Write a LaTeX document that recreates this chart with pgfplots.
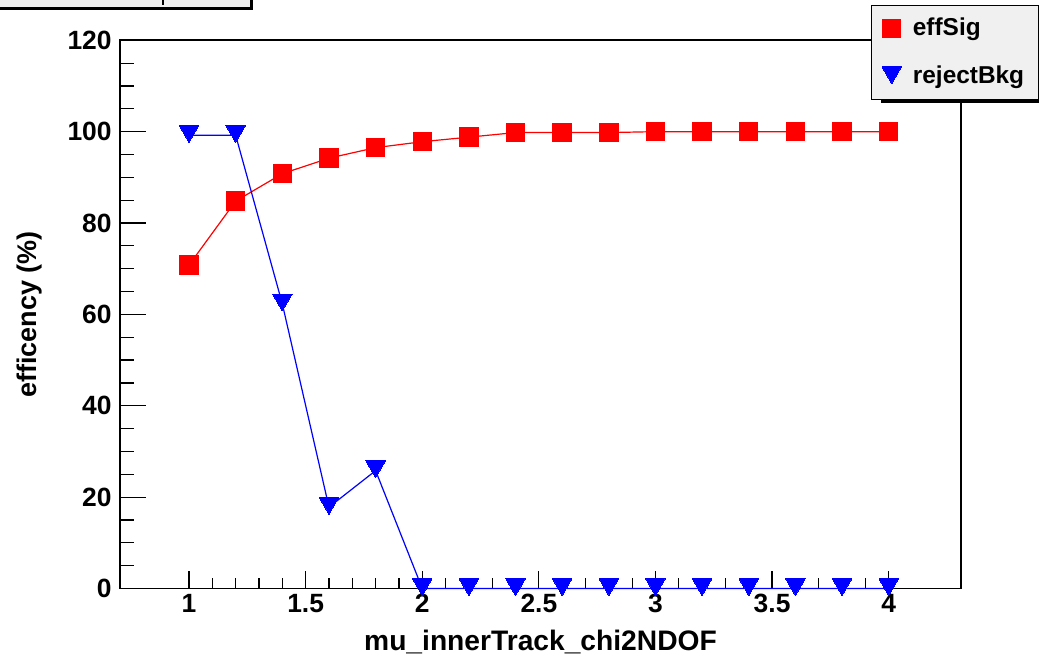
\documentclass[border=0pt]{standalone}
\usepackage{fontspec}
\setmainfont{Liberation Sans}
\usepackage{pgfplots}
\pgfplotsset{compat=1.18}
\usetikzlibrary{shadows}
\definecolor{rootgray}{HTML}{F0F0F0}
\definecolor{rootred}{HTML}{FF0000}
\definecolor{rootblue}{HTML}{0000FF}
\pgfplotsset{
  rootframe/.style={
    at={(0pt,0pt)}, anchor=south west,
    scale only axis, width=420.5pt, height=274.1pt,
    xmin=0.704, xmax=4.31, ymin=0, ymax=120,
    tick pos=left, tick align=inside,
    axis line style={line width=0.8pt, black},
    tick style={line width=0.6pt, black},
    /pgf/number format/assume math mode=true,
    tick label style={font=\fontsize{13.2pt}{15pt}\selectfont\bfseries, inner sep=0pt},
  }
}
\begin{document}
\begin{tikzpicture}
\useasboundingbox (-60pt,-34.75pt) rectangle (459.5pt,294.25pt);
% x ticks, x tick labels and x label
\begin{axis}[
  rootframe,
  xtick={1,1.5,2,2.5,3,3.5,4}, ytick=\empty,
  minor x tick num=4,
  major tick length=8.5pt, minor tick length=5pt,
  xticklabel style={anchor=base, yshift=-12.25pt},
  xlabel={mu\_innerTrack\_chi2NDOF},
  xlabel style={at={(axis description cs:0.5,-0.1122)}, anchor=base, inner sep=0pt, font=\fontsize{14.1pt}{16pt}\selectfont\bfseries},
]
\end{axis}
% y ticks, data and legend
\begin{axis}[
  rootframe,
  xtick=\empty, ytick={0,20,40,60,80,100,120},
  minor y tick num=3,
  major tick length=13pt, minor tick length=7pt,
  clip=false,
  yticklabel style={anchor=east, xshift=-4pt},
  ylabel={efficency (\%)},
  ylabel style={at={(axis description cs:-0.0987,0.5)}, anchor=base, inner sep=0pt, font=\fontsize{13.5pt}{16pt}\selectfont\bfseries},
  legend image code/.code={\draw[#1] plot coordinates {(0pt,0pt)};},
  legend cell align=left,
  legend style={at={(axis description cs:0.893,1.0644)}, anchor=north west,
    draw=black, line width=0.5pt, fill=rootgray,
    font=\fontsize{12.2pt}{14pt}\selectfont\bfseries,
    inner xsep=5.25pt, inner ysep=6.25pt, row sep=13.5pt,
    nodes={inner sep=0pt},
    /tikz/every odd column/.append style={column sep=5.75pt},
    drop shadow={shadow xshift=4.5pt, shadow yshift=-2pt, fill=black, opacity=1}},
]
\addplot[color=rootred, line width=0.6pt, mark=square*, mark size=4.6pt, mark options={solid, fill=rootred, draw=rootred, line width=0pt}]
  coordinates {(1,70.8) (1.2,84.8) (1.4,90.8) (1.6,94.2) (1.8,96.5) (2.0,97.8) (2.2,98.8) (2.4,99.8) (2.6,99.8) (2.8,99.8) (3.0,100) (3.2,100) (3.4,100) (3.6,100) (3.8,100) (4.0,100)};
\addlegendentry{\raisebox{0pt}[9pt][3pt]{\makebox[57.75pt][l]{effSig}}}
\addplot[color=rootblue, line width=0.6pt, mark=triangle*, mark size=5.6pt, mark options={solid, fill=rootblue, draw=rootblue, line width=0pt, yshift=2.1pt, rotate=180}]
  coordinates {(1,99.2) (1.2,99.2) (1.4,62.3) (1.6,17.8) (1.8,25.8) (2.0,0) (2.2,0) (2.4,0) (2.6,0) (2.8,0) (3.0,0) (3.2,0) (3.4,0) (3.6,0) (3.8,0) (4.0,0)};
\addlegendentry{\raisebox{0pt}[9pt][3pt]{\makebox[57.75pt][l]{rejectBkg}}}
\end{axis}
\fill[black] (-70pt,289.25pt) rectangle (66.3pt,320pt);
\draw[fill=rootgray, line width=0.5pt] (-70pt,290.5pt) rectangle (65.25pt,320pt);
\draw[line width=1pt] (21.5pt,291.75pt) -- (21.5pt,296pt);
\end{tikzpicture}
\end{document}
